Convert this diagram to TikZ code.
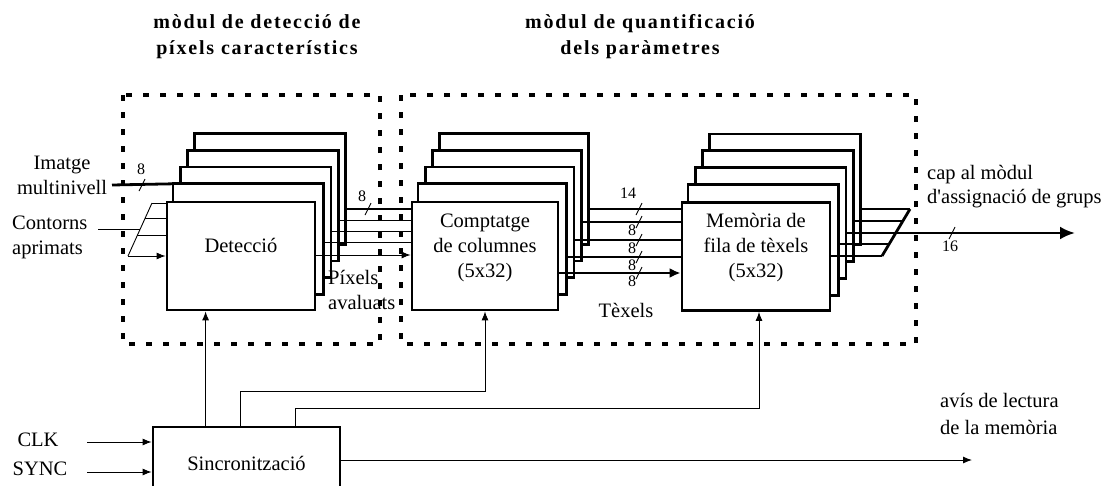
\documentclass[tikz,border=0pt]{standalone}
\usepackage{fontspec}
\setmainfont{Liberation Serif}
\newfontfamily\bodyfont{Liberation Serif}
\newfontfamily\headfont[LetterSpace=9]{Liberation Serif}
\usetikzlibrary{arrows.meta,backgrounds}

\begin{document}
\begin{tikzpicture}[x=1pt,y=-1pt,
  every node/.style={font=\bodyfont\fontsize{20.5}{25}\selectfont, inner sep=0pt},
  block/.style={draw, line width=2.8pt, fill=white, minimum height=108pt},
  ghost/.style={draw, line width=2.8pt, fill=white},
  module/.style={line width=3.3pt, dash pattern=on 6pt off 11pt},
  bus/.style={line width=2.8pt},
  midbus/.style={line width=1.6pt},
  wire/.style={line width=0.9pt},
  arrs/.style={-{Latex[length=9pt,width=7pt]}},
  arrm/.style={-{Latex[length=11pt,width=10pt]}},
  arrbig/.style={-{Latex[length=15pt,width=13pt]}},
  bitlabel/.style={font=\bodyfont\fontsize{16}{18}\selectfont},
  head/.style={font=\headfont\bfseries\fontsize{20}{26}\selectfont, align=center},
]
\useasboundingbox (0,0) rectangle (1114,485);

% module titles
\node[head] (t1) at (257,37) {mòdul de detecció de\\píxels característics};
\node[head] (t2) at (640,37) {mòdul de quantificació\\dels paràmetres};

% module frames
\draw[module] (123,95) rectangle (380,344);
\draw[module] (401,95) rectangle (916,344);

% front blocks of the three stacks
\node[block, minimum width=148pt] (det) at (241,256) {};
\node (dettxt) at ([yshift=11pt]det.center) {Detecció};
\node[block, minimum width=146pt] (comp) at (485,256) {};
\node[align=center] (comptxt) at (485,248) {Comptatge\\de columnes\\(5x32)};
\node[block, minimum width=148pt] (memo) at (756,256.5) {};
\node[align=center] (memotxt) at (756,248) {Memòria de\\fila de tèxels\\(5x32)};

% stacked copies behind each block
\begin{pgfonlayer}{background}
\foreach \nm in {det,comp,memo}{
  \foreach \kk in {4,3,2,1}{
    \draw[ghost] ([shift={(\kk*7.3,-\kk*16.8)}]\nm.south west)
      rectangle ([shift={(\kk*7.3,-\kk*16.8)}]\nm.north east);
  }
}
\end{pgfonlayer}

% right edges of the stacked copies
\foreach \nm in {det,comp,memo}{
  \foreach \kk in {0,...,4}{
    \coordinate (\nm-r\kk) at ([xshift=\kk*7.3pt]\nm.east);
  }
}

% synchronisation block
\node[block, minimum width=187pt, minimum height=73pt] (sync) at (246.5,463.5) {Sincronització};

% ---- inputs of the detection stack
\node[align=center] (imgtxt) at (62,175.5) {Imatge\\multinivell};
\coordinate (imgin) at (112,185);
\draw[bus] (imgin) -- ([shift={(7.3,-16.8)}]det.north west);
\draw[wire] (139,191) -- (145,179);
\node[bitlabel] (b8a) at (141,169) {8};

\node[align=left, anchor=west] (contxt) at (12,237.5) {Contorns\\aprimats};
\coordinate (conin) at (98,229);
\coordinate (fa) at (152,203);
\coordinate (fb) at (128,256);
\draw[wire] (fa) -- (fb);
\draw[wire] (conin) -- (140.2,229);
\draw[wire] (fa) -- (det.west |- fa);
\draw[wire] (145.1,218.3) -- (det.west |- 0,218.3);
\draw[wire] (137.2,235.7) -- (det.west |- 0,235.7);
\draw[wire, arrs] (fb) -- (det.west |- fb);

% ---- detection stack to column counters
\draw[bus] (det-r4 |- 0,209) -- (comp.west |- 0,209);
\draw[wire] (det-r3 |- 0,220) -- (comp.west |- 0,220);
\draw[wire] (det-r2 |- 0,231) -- (comp.west |- 0,231);
\draw[wire] (det-r1 |- 0,242) -- (comp.west |- 0,242);
\draw[wire, arrs] (det-r0 |- 0,255) -- (comp.west |- 0,255);
\node[bitlabel] (b8b) at (362,196) {8};
\draw[wire] (365,215) -- (371,203);
\node[align=left, anchor=west] (pixtxt) at (328,290) {Píxels\\avaluats};

% ---- column counters to texel row memory
\draw[midbus] (comp-r4 |- 0,209) -- (memo.west |- 0,209);
\draw[bus] (comp-r3 |- 0,222) -- (memo.west |- 0,222);
\draw[bus] (comp-r2 |- 0,240) -- (memo.west |- 0,240);
\draw[bus] (comp-r1 |- 0,257) -- (memo.west |- 0,257);
\draw[bus, arrm] (comp-r0 |- 0,273) -- (memo.west |- 0,273);
\node[bitlabel] (b14) at (628,193) {14};
\foreach \yy in {209,222,240,257,273}{
  \draw[wire] (636,\yy+6) -- (642,\yy-6);
}
\foreach \yy in {222,240,257,273}{
  \node[bitlabel] at (632,\yy+8) {8};
}
\node (textxt) at (626,310) {Tèxels};

% ---- memory outputs merged into one bus
\coordinate (ta) at (910,209);
\coordinate (tb) at (882,256);
\draw[bus] (ta) -- (tb);
\draw[bus] (memo-r4 |- ta) -- (ta);
\draw[bus] (memo-r3 |- 0,221) -- (902.8,221);
\draw[bus] (memo-r2 |- 0,233) -- (895.7,233);
\draw[bus] (memo-r1 |- 0,244) -- (889.1,244);
\draw[bus] (memo-r0 |- tb) -- (tb);
\coordinate (outend) at (1075,233);
\draw[bus, arrbig] (895.7,233) -- (outend);
\draw[wire] (949,239) -- (955,227);
\node[bitlabel] (b16) at (950,246) {16};
\node[align=left, anchor=west, font=\bodyfont\fontsize{20.5}{24}\selectfont] (captxt) at (927,187) {cap al mòdul\\d'assignació de grups};

% ---- synchronisation signals
\coordinate (s1) at ([xshift=54pt]sync.north west);
\coordinate (s2) at ([xshift=89pt]sync.north west);
\coordinate (s3) at ([xshift=144pt]sync.north west);
\draw[wire, arrs] (s1) -- (s1 |- det.south);
\draw[wire, arrs] (s2) -- (s2 |- 0,391) -| (comp.south);
\draw[wire, arrs] (s3) -- (s3 |- 0,408) -| ([xshift=3pt]memo.south);

\node (clk) at (38,440) {CLK};
\node (synctxt) at (40,469) {SYNC};
\draw[wire, arrs] (87,442) -- (sync.west |- 0,442);
\draw[wire, arrs] (87,472) -- (sync.west |- 0,472);

\coordinate (avisend) at (972,460);
\draw[wire, arrs] (sync.east |- avisend) -- (avisend);
\node[align=left, anchor=west, font=\bodyfont\fontsize{20.5}{27}\selectfont] (avistxt) at (940,413.5) {avís de lectura\\de la memòria};
\end{tikzpicture}
\end{document}
